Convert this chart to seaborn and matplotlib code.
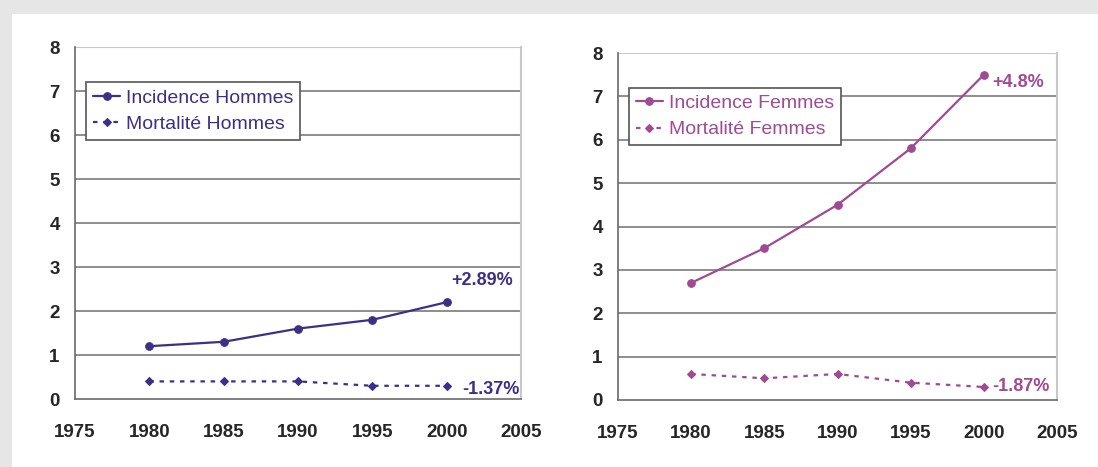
import numpy as np
import pandas as pd
import matplotlib
matplotlib.use("Agg")
import matplotlib.pyplot as plt
from matplotlib.patches import Rectangle
import seaborn as sns

# données
annees = [1980, 1985, 1990, 1995, 2000]
incidence_hommes = [1.2, 1.3, 1.6, 1.8, 2.2]
mortalite_hommes = [0.4, 0.4, 0.4, 0.3, 0.3]
incidence_femmes = [2.7, 3.5, 4.5, 5.8, 7.5]
mortalite_femmes = [0.6, 0.5, 0.6, 0.4, 0.3]
xticks = [1975, 1980, 1985, 1990, 1995, 2000, 2005]
yticks = list(range(0, 9))

col_h = "#3b2f88"
col_f = "#a04a93"

sns.set_style("white")
plt.rcParams['font.family'] = ['Liberation Sans', 'DejaVu Sans']

W, H = 1098, 467
fig = plt.figure(figsize=(W / 100, H / 100), dpi=100)
fig.patch.set_facecolor("#e6e6e6")
fig.patches.append(Rectangle((12 / W, 0), 1, 1 - 14 / H, transform=fig.transFigure,
                             facecolor="white", edgecolor="none", zorder=-1))

ax1 = fig.add_axes([75 / W, 1 - 399 / H, (521 - 75) / W, (399 - 47) / H])
ax2 = fig.add_axes([618 / W, 1 - 400 / H, (1057 - 618) / W, (400 - 53) / H])


def panel(ax, inc, mort, col, lab_inc, lab_mort, txt_inc, txt_mort, off_inc, off_mort):
    df = pd.DataFrame({"annee": annees, "inc": inc, "mort": mort})
    sns.lineplot(data=df, x="annee", y="inc", ax=ax, color=col, lw=1.6, marker="o",
                 markersize=5.5, markeredgecolor=col, label=lab_inc, zorder=3)
    sns.lineplot(data=df, x="annee", y="mort", ax=ax, color=col, lw=1.6, marker="D",
                 markersize=4.2, markeredgecolor=col, linestyle=(0, (2, 2.6)),
                 label=lab_mort, zorder=3)
    ax.set_xlim(1975, 2005)
    ax.set_ylim(0, 8)
    ax.set_xticks(xticks)
    ax.set_yticks(yticks)
    ax.set_facecolor("none")
    for y in yticks[1:8]:
        ax.axhline(y, color="#7a7a7a", lw=1.2, zorder=1)
    ax.axhline(8, color="#c8c8c8", lw=1.5, zorder=1)
    ax.spines["top"].set_visible(False)
    ax.spines["right"].set_color("#c8c8c8")
    ax.spines["right"].set_linewidth(1.5)
    ax.spines["left"].set_color("#6a6a6a")
    ax.spines["bottom"].set_color("#6a6a6a")
    ax.spines["left"].set_linewidth(1.2)
    ax.spines["bottom"].set_linewidth(1.2)
    ax.tick_params(axis="both", direction="out", length=4, width=1.2, color="#6a6a6a",
                   labelsize=13.5, pad=7)
    ax.tick_params(axis="x", pad=14)
    for t in ax.get_xticklabels() + ax.get_yticklabels():
        t.set_fontweight("bold")
    ax.set_xlabel("")
    ax.set_ylabel("")
    leg = ax.legend(loc="upper left", bbox_to_anchor=(0.025, 0.9), borderaxespad=0,
                    fontsize=14, frameon=True, fancybox=False, edgecolor="#555555",
                    framealpha=1, handlelength=1.4, handletextpad=0.3, borderpad=0.35,
                    labelspacing=0.45)
    leg.get_frame().set_linewidth(1.2)
    for t in leg.get_texts():
        t.set_color(col)
    ax.annotate(txt_inc, (annees[-1], inc[-1]), xytext=off_inc, textcoords="offset points",
                color=col, fontsize=13, fontweight="bold", va="center")
    ax.annotate(txt_mort, (annees[-1], mort[-1]), xytext=off_mort, textcoords="offset points",
                color=col, fontsize=13, fontweight="bold", va="center")


panel(ax1, incidence_hommes, mortalite_hommes, col_h, "Incidence Hommes", "Mortalité Hommes",
      "+2.89%", "-1.37%", (3, 15.5), (11.5, -3))
panel(ax2, incidence_femmes, mortalite_femmes, col_f, "Incidence Femmes", "Mortalité Femmes",
      "+4.8%", "-1.87%", (6, -5.5), (6, 0))

fig.savefig("out.png", dpi=100, facecolor=fig.get_facecolor())
